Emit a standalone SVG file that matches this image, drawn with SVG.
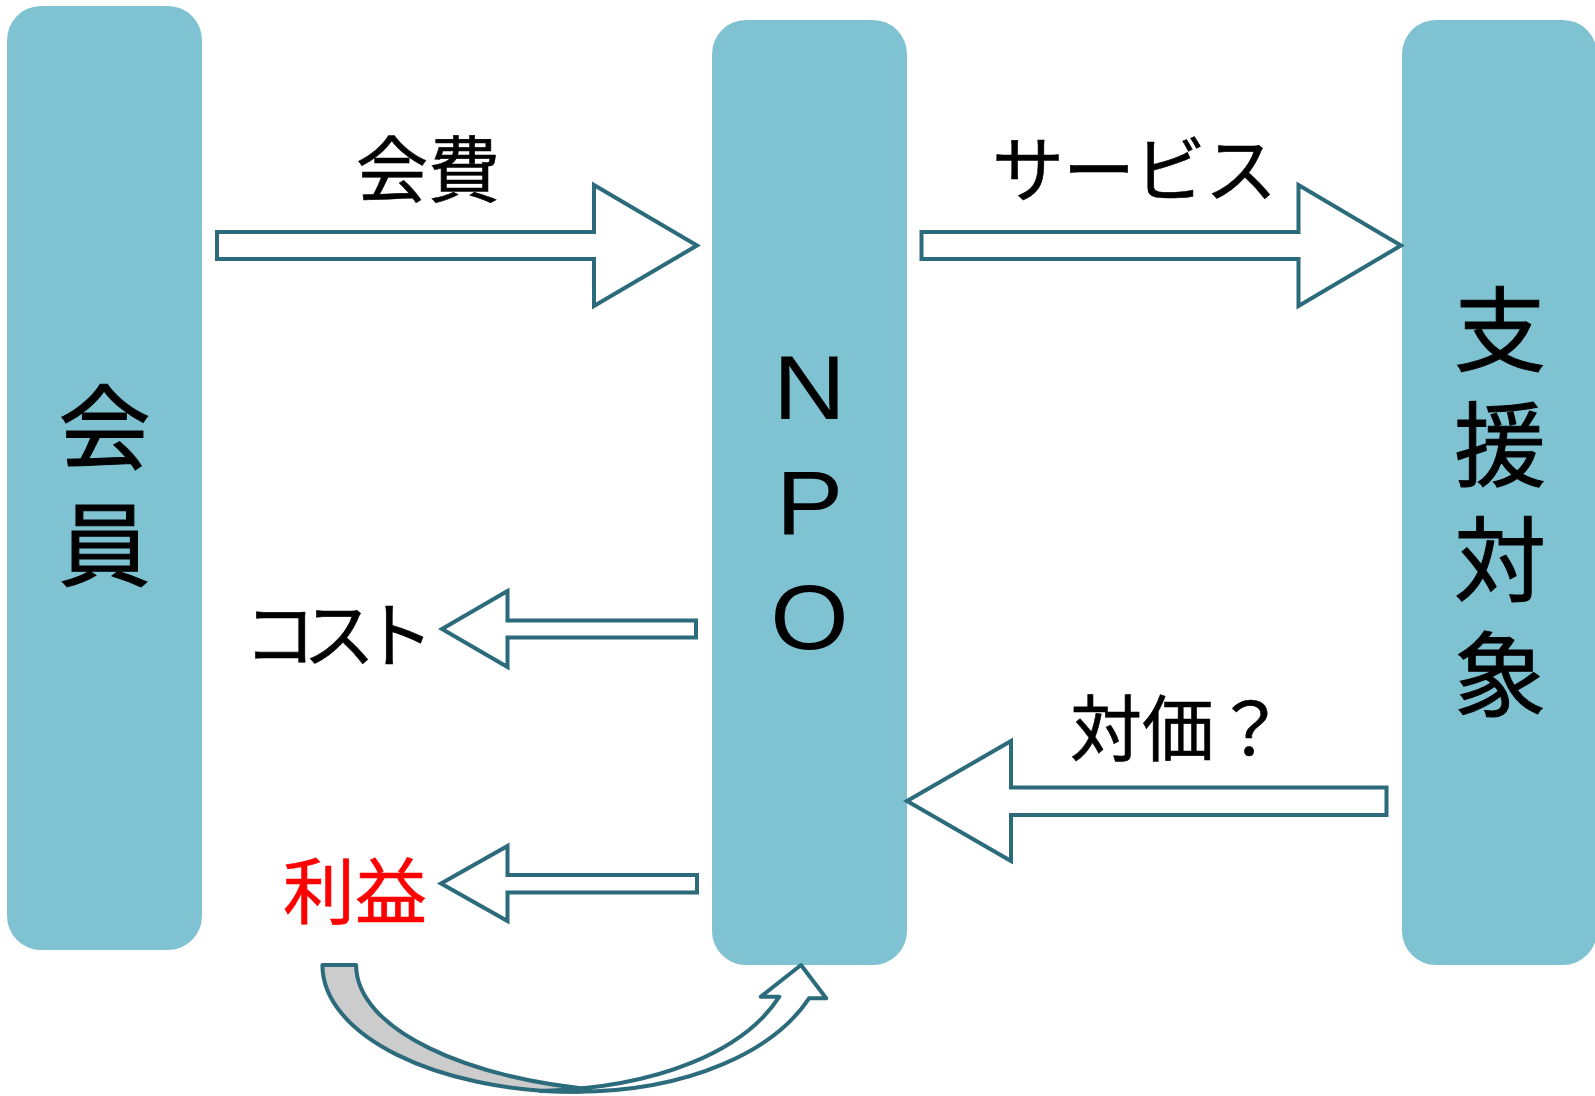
<svg xmlns="http://www.w3.org/2000/svg" width="1595" height="1096" viewBox="0 0 1595 1096">
<style>
.box{fill:#7fc3d3}
.arrow{fill:#ffffff;stroke:#2b6b7b;stroke-width:4;stroke-linejoin:miter}
.curve{stroke:#2b6b7b;stroke-width:4;stroke-linejoin:round}
.jp{font-family:"Noto Sans CJK JP","Noto Sans CJK SC",sans-serif;fill:#000000}
.lbl{font-size:72px;stroke:#000000;stroke-width:0.6}
.vt{font-size:92px;writing-mode:vertical-rl;stroke:#000000;stroke-width:1}
.lat{font-family:"Liberation Sans",Arial,sans-serif;font-size:90px;text-anchor:middle;fill:#000000}
</style>
<rect width="1595" height="1096" fill="#ffffff"/>
<g id="member">
<rect class="box" x="7" y="6" width="195" height="944" rx="34"/>
<text class="jp vt" x="104.5" y="381" writing-mode="vertical-rl" letter-spacing="25">会員</text>
</g>
<g id="npo">
<rect class="box" x="712" y="20" width="195" height="945" rx="34"/>
<g transform="translate(809.5 0) scale(1.12 1)">
<text class="lat"><tspan x="0" y="419">N</tspan><tspan x="0" y="534">P</tspan><tspan x="0" y="649">O</tspan></text>
</g>
</g>
<g id="target">
<rect class="box" x="1402" y="20" width="195" height="945" rx="34"/>
<text class="jp vt" x="1500" y="283" writing-mode="vertical-rl" letter-spacing="23">支援対象</text>
</g>
<g id="connectors">
<polygon class="arrow" points="217,232 594,232 594,185 697,245.5 594,306 594,259 217,259"/>
<polygon class="arrow" points="921.5,232 1298.5,232 1298.5,185 1401,245.5 1298.5,306 1298.5,259 921.5,259"/>
<polygon class="arrow" points="696,620.5 507.5,620.5 507.5,591 442,629 507.5,667 507.5,637.5 696,637.5"/>
<polygon class="arrow" points="697,875 507.5,875 507.5,846 441,883.5 507.5,921 507.5,892.5 697,892.5"/>
<polygon class="arrow" points="1386.5,787.5 1011,787.5 1011,741 907,801 1011,861 1011,815 1386.5,815"/>
<path class="curve" fill="#cccccc" d="M322.4,965 C322.4,1035 436,1091.7 575.5,1091.7 L600,1090 C470,1080 356,1030 356.1,965 Z"/>
<path class="curve" fill="#ffffff" d="M540,1091 C660,1088 745,1050 779.3,996.7 L760.7,996.7 L801,965 L826.2,998.3 L809,998.3 C775,1050 690,1091.7 575.5,1091.7 Z"/>
<text class="jp lbl" x="428" y="196" text-anchor="middle">会費</text>
<text class="jp lbl" x="1134.5" y="196" text-anchor="middle" textLength="285" lengthAdjust="spacing">サービス</text>
<text class="jp lbl" x="339" y="661" text-anchor="middle" textLength="190" lengthAdjust="spacing">コスト</text>
<text class="jp lbl" x="1070" y="755">対価？</text>
<text class="jp lbl" x="355" y="918" text-anchor="middle" style="fill:#ff0000;stroke:#ff0000">利益</text>
</g>
</svg>
